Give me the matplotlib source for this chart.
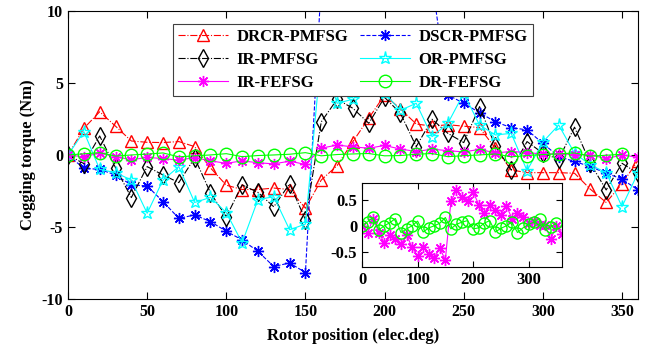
import numpy as np
import matplotlib
matplotlib.use("Agg")
import matplotlib.pyplot as plt

plt.rcParams['font.family'] = ['Liberation Serif', 'DejaVu Serif']
plt.rcParams['font.weight'] = 'bold'
plt.rcParams['axes.unicode_minus'] = False

# rotor position, one point every 10 elec. degrees
angle = np.arange(0, 361, 10)

drcr_pmfsg = [0, 1.85, 3.0, 2.0, 0.97, 0.88, 0.86, 0.93, 0.58, -0.9, -2.1, -2.4, -2.4,
              -2.3, -2.4, -3.7, -1.74, -0.74, 0.93, 2.55, 4.17, 3.2, 2.15, 2.0, 2.1,
              2.0, 1.9, 0.46, -1.04, -1.23, -1.23, -1.23, -1.27, -2.38, -3.3, -2.0, -0.4]
# 160..230 deg run off the top of the axes
dscr_pmfsg = [0, -0.93, -1.0, -1.39, -2.08, -2.15, -3.24, -4.4, -4.17, -4.63, -5.3, -5.9,
              -6.7, -7.75, -7.5, -8.17, 12, 14, 15, 15, 14, 13, 12, 12, 4.17, 3.59, 2.94,
              2.3, 1.9, 1.74, 0.81, -0.12, -0.45, -0.81, -1.27, -1.67, -2.43]
ir_pmfsg = [0, -0.6, 1.32, -0.88, -2.96, -0.81, -1.39, -1.92, -0.2, -2.63, -4.3, -2.08,
            -2.6, -3.6, -2.0, -4.5, 2.3, 3.87, 3.24, 2.2, 4.0, 2.9, 0.58, 2.48, 1.5, 0.86,
            3.36, 0.6, -1.04, 0.93, 0.12, -0.3, 1.93, -0.58, -2.43, -0.58, -1.27]
or_pmfsg = [0, 1.62, -1.0, -1.23, -1.74, -4.05, -1.74, -0.81, -3.3, -2.95, -4.0, -6.1,
            -3.1, -2.9, -5.2, -4.8, 7.0, 3.59, 3.87, 5.0, 4.28, 3.1, 3.59, 1.27, 2.2,
            4.28, 2.08, 1.39, 1.5, -1.09, 0.9, 2.08, 0.12, -0.69, -1.23, -3.59, -1.27]
ir_fefsg = [0, -0.13, 0.14, -0.13, -0.33, -0.17, -0.25, -0.36, -0.18, -0.41, -0.58,
            -0.41, -0.54, -0.62, -0.43, -0.66, 0.47, 0.69, 0.56, 0.47, 0.66, 0.41, 0.24,
            0.40, 0.30, 0.21, 0.39, 0.14, 0.24, 0.17, 0.06, 0.1, 0.01, 0.02, -0.26, 0.0,
            -0.16]
dr_fefsg = [0, 0.08, 0.16, -0.08, 0.0, 0.06, 0.14, -0.13, -0.06, 0.0, 0.09, -0.12, -0.04,
            0.0, 0.05, 0.16, -0.06, 0.03, 0.07, 0.1, -0.06, -0.04, 0.05, 0.1, -0.12,
            -0.05, 0.0, 0.07, -0.13, -0.04, 0.03, 0.07, 0.14, -0.08, -0.02, 0.05]

labels = ['DRCR-PMFSG', 'DSCR-PMFSG', 'IR-PMFSG', 'OR-PMFSG', 'IR-FEFSG', 'DR-FEFSG']

# MATLAB style pure colours
RED, BLUE, BLACK = '#FF0000', '#0000FF', '#000000'
CYAN, MAGENTA, GREEN = '#00FFFF', '#FF00FF', '#00FF00'

aster = (8, 2, 0)

fig = plt.figure(figsize=(6.49, 3.55), dpi=100)
ax = fig.add_axes([0.1048, 0.158, 0.878, 0.811])

l1, = ax.plot(angle, drcr_pmfsg, '-.', color=RED, lw=0.8, marker='^', ms=9,
              mfc='none', mec=RED, mew=1.0, label=labels[0])
l2, = ax.plot(angle, dscr_pmfsg, '--', color=BLUE, lw=0.8, marker=aster, ms=8,
              mec=BLUE, mew=1.0, label=labels[1])
l3, = ax.plot(angle, ir_pmfsg, '-.', color=BLACK, lw=0.8, marker='d', ms=9,
              mfc='none', mec=BLACK, mew=1.0, label=labels[2])
l4, = ax.plot(angle, or_pmfsg, '-', color=CYAN, lw=0.8, marker='*', ms=9.5,
              mfc='none', mec=CYAN, mew=1.0, label=labels[3])
l5, = ax.plot(angle, ir_fefsg, '-', color=MAGENTA, lw=0.8, marker=aster, ms=8,
              mec=MAGENTA, mew=1.0, label=labels[4])
l6, = ax.plot(angle[:len(dr_fefsg)], dr_fefsg, '-', color=GREEN, lw=0.8, marker='o',
              ms=9, mfc='none', mec=GREEN, mew=1.0, label=labels[5])

ax.set_xlim(0, 360)
ax.set_ylim(-10, 10)
ax.set_xticks(np.arange(0, 351, 50))
ax.set_yticks([-10, -5, 0, 5, 10])
ax.tick_params(direction='in', top=True, right=True, length=5, labelsize=11.5)
ax.set_xlabel('Rotor position (elec.deg)', fontsize=12, fontweight='bold', labelpad=6)
ax.set_ylabel('Cogging torque (Nm)', fontsize=12, fontweight='bold')

# row-wise order like the original legend
handles = [l1, l3, l5, l2, l4, l6]
leg = ax.legend(handles, [h.get_label() for h in handles], loc='upper center',
                bbox_to_anchor=(0.5, 0.955), borderaxespad=0, ncol=2, fontsize=12,
                handlelength=3.0, columnspacing=0.7, labelspacing=0.42, borderpad=0.3,
                handletextpad=0.5, fancybox=False, framealpha=1)
leg.get_frame().set_edgecolor('0.25')
leg.get_frame().set_linewidth(0.8)
for t in leg.get_texts():
    t.set_fontweight('bold')

# inset with the two FEFSG curves
ins = fig.add_axes([0.558, 0.247, 0.3077, 0.2383])
ins.plot(angle, ir_fefsg, '-', color=MAGENTA, lw=0.8, marker=aster, ms=8,
         mec=MAGENTA, mew=1.0)
ins.plot(angle[:len(dr_fefsg)], dr_fefsg, '-', color=GREEN, lw=0.8, marker='o', ms=8,
         mfc='none', mec=GREEN, mew=1.0)
ins.set_xlim(0, 360)
ins.set_ylim(-0.8, 0.83)
ins.set_xticks([0, 100, 200, 300])
ins.set_yticks([-0.5, 0, 0.5])
ins.set_yticklabels(['-0.5', '0', '0.5'])
ins.tick_params(direction='in', top=True, right=True, length=4, labelsize=12)

fig.savefig('out.png', dpi=100)
